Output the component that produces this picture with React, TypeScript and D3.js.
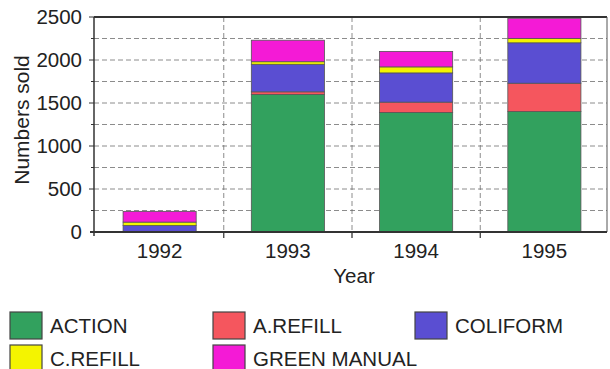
import React from "react";
import * as d3 from "d3";

// Sales per year, stacked by product (bottom to top)
const years = ["1992", "1993", "1994", "1995"];
const seriesNames = ["ACTION", "A.REFILL", "COLIFORM", "C.REFILL", "GREEN MANUAL"];
const action = [0, 1600, 1390, 1400];
const aRefill = [0, 30, 120, 330];
const coliform = [75, 320, 340, 470];
const cRefill = [40, 30, 70, 50];
const greenManual = [125, 250, 180, 235];
const seriesColors = ["#32a15e", "#f5565e", "#5a4ed2", "#f4f400", "#f41ad6"];
const yTicks = [0, 500, 1000, 1500, 2000, 2500];
const yGrid = [250, 500, 750, 1000, 1250, 1500, 1750, 2000, 2250];

const W = 610;
const H = 369;
const plot = { left: 94, right: 607, top: 17, bottom: 232 };
const FONT = "'Liberation Sans', Arial, sans-serif";
const INK = "#222";

export default function App() {
  const table = years.map((y, i) => ({
    year: y,
    "ACTION": action[i],
    "A.REFILL": aRefill[i],
    "COLIFORM": coliform[i],
    "C.REFILL": cRefill[i],
    "GREEN MANUAL": greenManual[i],
  }));
  const stacked = d3.stack<any>().keys(seriesNames)(table);

  const x = d3
    .scaleBand<string>()
    .domain(years)
    .range([plot.left + 1.5, plot.right + 1.5])
    .paddingInner(0.43)
    .paddingOuter(0.215);
  const y = d3.scaleLinear().domain([0, 2500]).range([plot.bottom, plot.top]);
  const step = x.step();
  const boundaries = years.slice(1).map((yr) => (x(yr) as number) - (step * 0.43) / 2);

  // legend layout: three columns, two rows
  const legendCols = [10, 213, 415];
  const legendRows = [312, 345];

  return (
    <svg
      width={W}
      height={H}
      style={{ position: "absolute", left: 0, top: 0, background: "#fff" }}
      fontFamily={FONT}
    >
      {/* horizontal grid */}
      {yGrid.map((v) => (
        <line
          key={"g" + v}
          x1={plot.left}
          x2={plot.right}
          y1={y(v)}
          y2={y(v)}
          stroke="#666"
          strokeWidth={1}
          strokeDasharray="5,3"
          opacity={0.75}
        />
      ))}
      {/* vertical grid at category boundaries */}
      {boundaries.map((bx, i) => (
        <line
          key={"vg" + i}
          x1={bx}
          x2={bx}
          y1={plot.top}
          y2={plot.bottom + 6}
          stroke="#666"
          strokeWidth={1}
          strokeDasharray="5,3"
          opacity={0.75}
        />
      ))}
      {/* frame: top and right */}
      <line x1={plot.left} x2={plot.right} y1={plot.top} y2={plot.top} stroke="#333" strokeWidth={1.8} />
      <line x1={plot.right} x2={plot.right} y1={plot.top} y2={plot.bottom} stroke="#555" strokeWidth={1} />

      {/* stacked bars */}
      {stacked.map((layer, si) => (
        <g key={layer.key}>
          {layer.map((d, i) => {
            const h = y(d[0]) - y(d[1]);
            if (h <= 0) return null;
            return (
              <rect
                key={i}
                x={x(years[i])}
                y={y(d[1])}
                width={x.bandwidth()}
                height={h}
                fill={seriesColors[si]}
                stroke="#555"
                strokeWidth={0.8}
              />
            );
          })}
        </g>
      ))}

      {/* axes */}
      <line x1={plot.left} x2={plot.left} y1={plot.top} y2={plot.bottom + 4} stroke="#333" strokeWidth={1.5} />
      <line x1={plot.left - 4} x2={plot.right} y1={plot.bottom} y2={plot.bottom} stroke="#333" strokeWidth={1.8} />
      {yGrid.concat([2500]).map((v) => (
        <line
          key={"t" + v}
          x1={plot.left - (v % 500 === 0 ? 5 : 3)}
          x2={plot.left}
          y1={y(v)}
          y2={y(v)}
          stroke="#333"
          strokeWidth={1}
        />
      ))}
      {boundaries.map((bx, i) => (
        <line key={"xt" + i} x1={bx} x2={bx} y1={plot.bottom} y2={plot.bottom + 6} stroke="#333" strokeWidth={1} />
      ))}
      {yTicks.map((v) => (
        <text
          key={"yl" + v}
          x={82}
          y={y(v)}
          dy="0.36em"
          textAnchor="end"
          fontSize={20.5}
          fill={INK}
        >
          {v}
        </text>
      ))}
      {years.map((yr) => (
        <text
          key={"xl" + yr}
          x={(x(yr) as number) + x.bandwidth() / 2}
          y={258}
          textAnchor="middle"
          fontSize={20.5}
          fill={INK}
        >
          {yr}
        </text>
      ))}
      <text x={354} y={283} textAnchor="middle" fontSize={20.5} fill={INK}>
        Year
      </text>
      <text
        transform={`translate(29,120) rotate(-90)`}
        textAnchor="middle"
        fontSize={21}
        fill={INK}
      >
        Numbers sold
      </text>

      {/* legend */}
      {seriesNames.map((name, i) => {
        const lx = legendCols[i % 3];
        const ly = legendRows[Math.floor(i / 3)];
        return (
          <g key={"lg" + name}>
            <rect x={lx} y={ly} width={32} height={27} fill={seriesColors[i]} stroke="#444" strokeWidth={1.2} />
            <text x={lx + 40} y={ly + 21} fontSize={20.5} fill={INK}>
              {name}
            </text>
          </g>
        );
      })}
    </svg>
  );
}
